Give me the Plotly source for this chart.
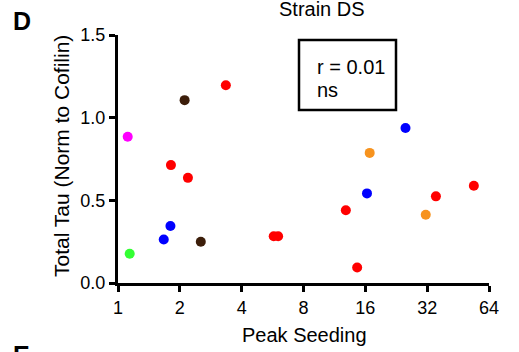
import plotly.graph_objects as go

# Data
seeding = [1.115, 1.14, 1.67, 1.80, 1.81, 2.19, 2.53, 2.11, 3.35, 5.73, 6.02,
           12.86, 14.6, 16.3, 31.5, 35.3, 54.0, 25.1, 16.8]
total_tau = [0.885, 0.177, 0.263, 0.345, 0.713, 0.636, 0.25, 1.106, 1.196, 0.283, 0.283,
             0.44, 0.094, 0.542, 0.413, 0.524, 0.588, 0.937, 0.787]
point_colors = ["#ff00ff", "#33ff33", "#0000ff", "#0000ff", "#ff0000", "#ff0000", "#3c1e0a",
                "#3c1e0a", "#ff0000", "#ff0000", "#ff0000", "#ff0000", "#ff0000", "#0000ff",
                "#f7931e", "#ff0000", "#ff0000", "#0000ff", "#f7931e"]

x_ticks = [1, 2, 4, 8, 16, 32, 64]
y_ticks = [0, 0.5, 1.0, 1.5]
y_tick_labels = ["0.0", "0.5", "1.0", "1.5"]

W, H = 519, 352
L, T = 118, 35
R = W - 489
B = H - 283
pw, ph = W - L - R, H - T - B

def px(x):
    return (x - L) / pw

def py(y):
    return (H - y - B) / ph

font = "Liberation Sans, Arial, Helvetica, sans-serif"

fig = go.Figure()
fig.add_trace(go.Scatter(
    x=seeding, y=total_tau, mode="markers",
    marker=dict(size=10, color=point_colors, line=dict(width=0)),
    cliponaxis=False, showlegend=False,
))

fig.update_layout(
    width=W, height=H,
    margin=dict(l=L, r=R, t=T, b=B),
    paper_bgcolor="white", plot_bgcolor="white",
    font=dict(family=font, size=20, color="black"),
    xaxis=dict(
        type="log", range=[0, 1.80618], tickvals=x_ticks,
        ticktext=[str(v) for v in x_ticks],
        showline=True, linecolor="black", linewidth=3,
        ticks="outside", ticklen=6, tickwidth=3, tickcolor="black",
        showgrid=False, zeroline=False,
        tickfont=dict(size=18),
    ),
    yaxis=dict(
        range=[0, 1.5], tickvals=y_ticks, ticktext=y_tick_labels,
        showline=True, linecolor="black", linewidth=3,
        ticks="outside", ticklen=6, tickwidth=3, tickcolor="black",
        showgrid=False, zeroline=False,
        tickfont=dict(size=18),
    ),
    shapes=[dict(
        type="rect", xref="paper", yref="paper",
        x0=px(299), x1=px(396), y0=py(110), y1=py(40),
        line=dict(color="black", width=2.5), fillcolor="rgba(0,0,0,0)",
    )],
    annotations=[
        dict(text="Peak Seeding", xref="paper", yref="paper", x=px(304), y=py(335),
             xanchor="center", yanchor="middle", showarrow=False, font=dict(size=20)),
        dict(text="Total Tau (Norm to Cofilin)", xref="paper", yref="paper",
             x=px(61), y=py(156), textangle=-90,
             xanchor="center", yanchor="middle", showarrow=False, font=dict(size=21)),
        dict(text="Strain DS", xref="paper", yref="paper", x=px(322), y=py(9),
             xanchor="center", yanchor="middle", showarrow=False, font=dict(size=20)),
        dict(text="<b>D</b>", xref="paper", yref="paper", x=px(11), y=py(21),
             xanchor="left", yanchor="middle", showarrow=False, font=dict(size=25)),
        dict(text="<b>E</b>", xref="paper", yref="paper", x=px(11), y=py(339),
             xanchor="left", yanchor="top", showarrow=False, font=dict(size=25)),
        dict(text="r = 0.01", xref="paper", yref="paper", x=px(315), y=py(67),
             xanchor="left", yanchor="middle", showarrow=False, font=dict(size=20)),
        dict(text="ns", xref="paper", yref="paper", x=px(315), y=py(90),
             xanchor="left", yanchor="middle", showarrow=False, font=dict(size=20)),
    ],
)

fig.write_html("out.html", config={"displayModeBar": False},
               post_script="document.body.style.margin='0';")
